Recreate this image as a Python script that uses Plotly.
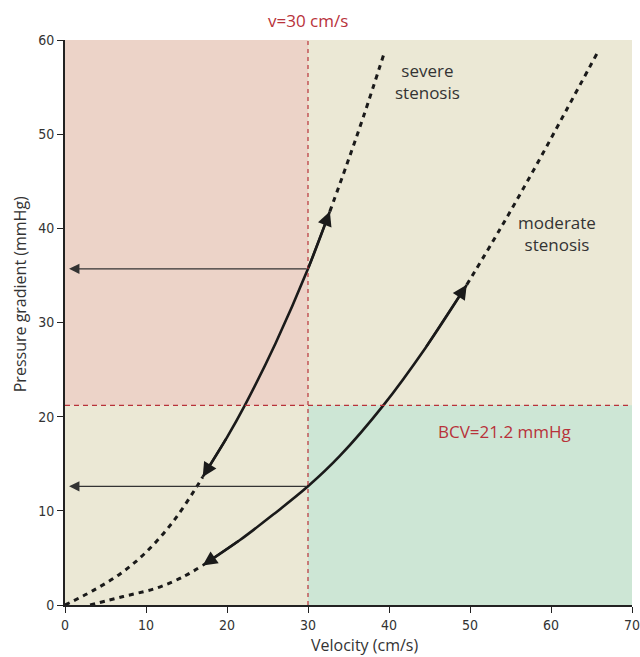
import plotly.graph_objects as go

# Severe stenosis curve (velocity cm/s, pressure gradient mmHg)
sev_low_x = [0, 3.4, 6.8, 10.0, 13.3, 16.0, 17.0]
sev_low_y = [0, 1.5, 3.3, 5.6, 8.8, 12.2, 13.6]
sev_mid_x = [17.0, 20.0, 22.2, 26.0, 30.0, 32.7]
sev_mid_y = [13.6, 17.8, 21.2, 27.8, 35.7, 41.8]
sev_high_x = [32.7, 34.8, 36.9, 39.4]
sev_high_y = [41.8, 46.8, 52.0, 58.6]

# Moderate stenosis curve
mod_low_x = [3.1, 7.2, 11.3, 14.6, 17.0]
mod_low_y = [0, 0.9, 1.8, 3.0, 4.2]
mod_mid_x = [17.0, 21.6, 25.7, 30.0, 33.9, 39.3, 44.5, 49.6]
mod_mid_y = [4.2, 6.9, 9.6, 12.6, 15.8, 21.2, 27.3, 34.0]
mod_high_x = [49.6, 53.7, 57.8, 61.8, 65.7]
mod_high_y = [34.0, 39.9, 46.1, 52.4, 58.6]

V_THRESH = 30
BCV = 21.2
read_severe = 35.7
read_moderate = 12.6

x_ticks = [0, 10, 20, 30, 40, 50, 60, 70]
y_ticks = [0, 10, 20, 30, 40, 50, 60]

RED = "#b8323a"
DARK = "#1a1a1a"
TXT = "#333333"

fig = go.Figure()

def seg(x, y, dashed):
    fig.add_trace(go.Scatter(
        x=x, y=y, mode="lines", line_shape="spline", hoverinfo="skip",
        line=dict(color=DARK, width=3 if dashed else 2.6, smoothing=1.0,
                  dash="5px,5px" if dashed else "solid"),
        showlegend=False))

seg(sev_low_x, sev_low_y, True)
seg(sev_mid_x, sev_mid_y, False)
seg(sev_high_x, sev_high_y, True)
seg(mod_low_x, mod_low_y, True)
seg(mod_mid_x, mod_mid_y, False)
seg(mod_high_x, mod_high_y, True)

shapes = [
    dict(type="rect", xref="x", yref="y", x0=0, x1=V_THRESH, y0=BCV, y1=60,
         fillcolor="#ecd3c8", line_width=0, layer="below"),
    dict(type="rect", xref="x", yref="y", x0=V_THRESH, x1=70, y0=0, y1=BCV,
         fillcolor="#cde6d5", line_width=0, layer="below"),
    dict(type="line", xref="x", yref="y", x0=V_THRESH, x1=V_THRESH, y0=0, y1=60,
         line=dict(color=RED, width=1.2, dash="4px,4px")),
    dict(type="line", xref="x", yref="y", x0=0, x1=70, y0=BCV, y1=BCV,
         line=dict(color=RED, width=1.2, dash="5px,4px")),
]

annotations = []
# horizontal read-off arrows
for yv in [read_severe, read_moderate]:
    annotations.append(dict(x=0.5, y=yv, ax=V_THRESH, ay=yv, xref="x", yref="y",
                            axref="x", ayref="y", showarrow=True, arrowhead=2,
                            arrowsize=1.6, arrowwidth=1.3, arrowcolor="#333333", text=""))
# curve arrowheads
def curve_arrow(tip, tail):
    annotations.append(dict(x=tip[0], y=tip[1], ax=tail[0], ay=tail[1], xref="x", yref="y",
                            axref="x", ayref="y", showarrow=True, arrowhead=2,
                            arrowsize=1.2, arrowwidth=2.4, arrowcolor=DARK, text=""))

curve_arrow((sev_mid_x[-1], sev_mid_y[-1]), (sev_mid_x[-2], sev_mid_y[-2]))
curve_arrow((sev_mid_x[0], sev_mid_y[0]), (sev_mid_x[1], sev_mid_y[1]))
curve_arrow((mod_mid_x[-1], mod_mid_y[-1]), (mod_mid_x[-2], mod_mid_y[-2]))
curve_arrow((mod_mid_x[0], mod_mid_y[0]), (mod_mid_x[1], mod_mid_y[1]))

font_tick = "DejaVu Sans Condensed, Liberation Sans Narrow, Roboto, sans-serif"
font_txt = "Open Sans"
annotations += [
    dict(x=V_THRESH, y=1.0, xref="x", yref="paper", yanchor="bottom", yshift=6,
         text="v=30 cm/s", showarrow=False, font=dict(color=RED, size=17, family=font_txt)),
    dict(x=44.7, y=55.6, xref="x", yref="y", text="severe<br>stenosis", showarrow=False,
         font=dict(color=TXT, size=17, family=font_txt)),
    dict(x=60.7, y=39.4, xref="x", yref="y", text="moderate<br>stenosis", showarrow=False,
         font=dict(color=TXT, size=17, family=font_txt)),
    dict(x=54.3, y=18.4, xref="x", yref="y", text="BCV=21.2 mmHg", showarrow=False,
         font=dict(color=RED, size=17, family=font_txt)),
    # axis titles
    dict(x=0.529, y=0, xref="paper", yref="paper", yanchor="middle", yshift=-40,
         borderpad=0, text="Velocity (cm/s)", showarrow=False,
         font=dict(color=TXT, size=16, family=font_txt)),
    dict(x=0, y=0.55, xref="paper", yref="paper", xanchor="center", xshift=-45,
         textangle=-90, text="Pressure gradient (mmHg)", showarrow=False,
         font=dict(color=TXT, size=16, family=font_txt)),
]

fig.update_layout(
    width=640, height=657,
    margin=dict(l=65, r=8, t=40, b=52),
    paper_bgcolor="white", plot_bgcolor="#ebe8d5",
    shapes=shapes, annotations=annotations, showlegend=False,
    xaxis=dict(range=[0, 70], tickvals=x_ticks, showgrid=False, zeroline=False,
               showline=True, linecolor="#222", linewidth=2, ticks="outside",
               ticklen=6, tickcolor="#222", tickwidth=1.2, ticklabeloverflow="allow",
               automargin=False,
               tickfont=dict(family=font_tick, size=14, color=TXT)),
    yaxis=dict(range=[0, 60], tickvals=y_ticks, showgrid=False, zeroline=False,
               showline=True, linecolor="#222", linewidth=2, ticks="outside",
               ticklen=6, tickcolor="#222", tickwidth=1.2, automargin=False,
               tickfont=dict(family=font_tick, size=14, color=TXT)),
)

fig.write_html("out.html")
